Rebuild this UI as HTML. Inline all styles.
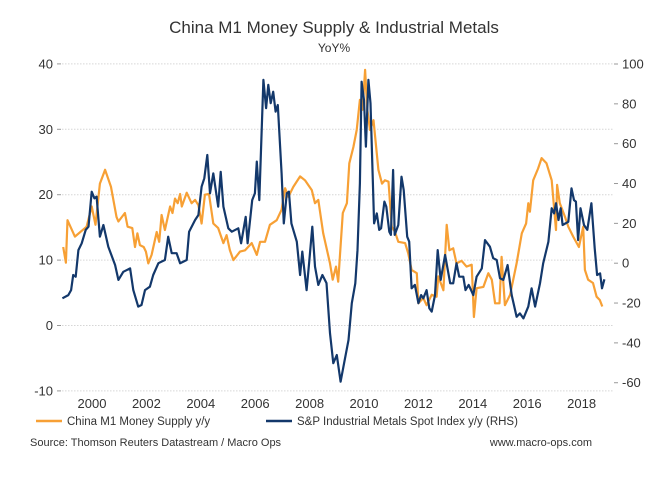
<!DOCTYPE html>
<html><head><meta charset="utf-8"><style>
body{margin:0;background:#fff;font-family:"Liberation Sans",sans-serif;}
svg{display:block}
text{font-family:"Liberation Sans",sans-serif;fill:#333}
</style></head><body>
<svg id="chart" width="668" height="479" viewBox="0 0 668 479">
<text x="334" y="33" text-anchor="middle" font-size="17">China M1 Money Supply &amp; Industrial Metals</text>
<text x="334" y="52" text-anchor="middle" font-size="12">YoY%</text>
<g id="grid"></g>
<g id="axes"></g>
<g id="series"></g>
<g>
<line x1="36" y1="421" x2="62" y2="421" stroke="#f7a035" stroke-width="2.5"/>
<text x="67" y="425" font-size="11.5">China M1 Money Supply y/y</text>
<line x1="266" y1="421" x2="292" y2="421" stroke="#13386b" stroke-width="2.5"/>
<text x="297" y="425" font-size="11.5">S&amp;P Industrial Metals Spot Index y/y (RHS)</text>
</g>
<text x="30" y="446" font-size="11">Source: Thomson Reuters Datastream / Macro Ops</text>
<text x="592" y="446" text-anchor="end" font-size="11">www.macro-ops.com</text>
</svg>
<script>
const leftTicks=[40,30,20,10,0,-10];
const rightTicks=[100,80,60,40,20,0,-20,-40,-60];
const yearTicks=[2000,2002,2004,2006,2008,2010,2012,2014,2016,2018];
const m1Dates=[1998.94,1999.04,1999.1,1999.37,1999.8,1999.99,2000.13,2000.29,2000.48,2000.7,2000.9,2000.97,2001.21,2001.31,2001.48,2001.58,2001.67,2001.76,2001.9,2001.98,2002.07,2002.19,2002.38,2002.47,2002.56,2002.68,2002.87,2002.96,2003.05,2003.15,2003.24,2003.3,2003.48,2003.66,2003.79,2003.91,2004.03,2004.15,2004.3,2004.46,2004.64,2004.83,2004.95,2005.07,2005.2,2005.44,2005.63,2005.87,2006.06,2006.18,2006.36,2006.54,2006.79,2006.97,2007.1,2007.22,2007.4,2007.65,2007.83,2008.08,2008.2,2008.32,2008.5,2008.75,2008.85,2008.97,2009.05,2009.22,2009.37,2009.46,2009.61,2009.73,2009.85,2009.95,2010.04,2010.12,2010.22,2010.35,2010.53,2010.66,2010.77,2010.9,2011.02,2011.14,2011.26,2011.51,2011.63,2011.75,2011.94,2012.0,2012.18,2012.3,2012.49,2012.67,2012.73,2012.92,2013.04,2013.14,2013.28,2013.4,2013.59,2013.77,2013.96,2014.04,2014.14,2014.39,2014.57,2014.7,2014.82,2014.98,2015.06,2015.18,2015.37,2015.61,2015.8,2015.96,2016.04,2016.1,2016.22,2016.4,2016.53,2016.71,2016.9,2017.06,2017.1,2017.2,2017.39,2017.51,2017.69,2017.9,2018.06,2018.12,2018.24,2018.42,2018.55,2018.67,2018.76];
const m1Values=[12.0,9.6,16.1,13.6,15.1,18.2,15.4,21.7,23.8,21.2,16.6,15.9,17.2,15.1,14.9,12.0,14.1,12.3,12.0,11.3,9.5,10.8,14.3,12.8,16.9,14.6,18.2,17.2,19.4,18.7,20.1,18.2,20.3,18.7,19.2,18.4,15.6,20.0,20.1,15.6,14.9,12.6,13.8,11.5,10.0,11.3,11.5,12.6,10.8,12.8,12.8,15.4,16.1,17.7,21.0,19.7,21.2,22.8,22.2,20.7,18.7,19.2,14.1,9.5,7.0,9.0,6.7,17.2,18.7,24.8,27.3,29.9,34.5,33.0,39.1,33.0,29.9,31.4,23.8,21.7,22.2,22.0,15.1,14.3,12.8,12.6,11.0,8.5,8.0,3.4,4.2,3.1,4.7,4.4,7.5,5.4,15.4,11.5,11.8,9.5,9.9,9.0,9.3,1.3,5.7,5.9,8.0,7.0,3.4,3.4,10.5,3.1,4.7,9.5,14.1,15.6,18.7,17.4,22.2,24.0,25.6,24.8,22.2,14.6,21.5,18.7,16.6,15.1,13.6,12.0,15.1,8.5,7.0,6.5,4.4,3.9,2.9];
const metDates=[1998.91,1999.13,1999.23,1999.31,1999.4,1999.5,1999.62,1999.77,1999.87,1999.99,2000.09,2000.17,2000.29,2000.42,2000.6,2000.85,2000.97,2001.15,2001.4,2001.52,2001.7,2001.82,2001.95,2002.13,2002.25,2002.44,2002.68,2002.8,2002.93,2003.11,2003.24,2003.48,2003.57,2003.79,2003.91,2004.03,2004.13,2004.24,2004.34,2004.46,2004.64,2004.73,2004.83,2005.01,2005.14,2005.38,2005.48,2005.65,2005.72,2005.89,2005.99,2006.06,2006.15,2006.3,2006.4,2006.48,2006.57,2006.66,2006.75,2006.83,2006.97,2007.05,2007.16,2007.24,2007.33,2007.53,2007.65,2007.73,2007.89,2007.98,2008.1,2008.2,2008.32,2008.47,2008.62,2008.75,2008.87,2009.0,2009.14,2009.27,2009.43,2009.55,2009.68,2009.76,2009.85,2009.91,2010.0,2010.07,2010.16,2010.24,2010.37,2010.47,2010.56,2010.63,2010.75,2010.82,2010.93,2010.99,2011.07,2011.13,2011.26,2011.38,2011.46,2011.59,2011.66,2011.75,2011.87,2012.0,2012.1,2012.18,2012.3,2012.4,2012.49,2012.61,2012.71,2012.82,2012.98,2013.17,2013.28,2013.4,2013.5,2013.65,2013.73,2013.85,2014.02,2014.14,2014.33,2014.45,2014.63,2014.75,2014.88,2015.0,2015.12,2015.28,2015.43,2015.61,2015.73,2015.86,2016.04,2016.16,2016.29,2016.47,2016.59,2016.78,2016.9,2016.99,2017.06,2017.15,2017.23,2017.3,2017.51,2017.63,2017.72,2017.79,2017.87,2017.96,2018.09,2018.21,2018.36,2018.48,2018.57,2018.68,2018.75,2018.84];
const metValues=[-17.6,-16.0,-13.5,-5.9,-6.8,6.6,10.0,16.7,18.3,35.9,32.6,33.4,13.3,19.2,8.3,-0.9,-8.4,-4.3,-2.6,-13.5,-21.8,-21.0,-13.5,-11.8,-5.9,0,1.6,13.3,5.0,5.0,0,1.6,15.8,21.7,24.2,38.4,42.6,54.3,35.1,45.1,28.4,45.9,28.4,17.5,15.8,17.5,10.0,23.3,10.0,31.7,35.1,51.0,31.7,92.0,77.8,89.5,80.3,86.1,76.1,79.4,45.1,20.0,35.1,35.9,20.0,10.8,-5.9,5.8,-13.5,0,18.3,-1.7,-10.9,-5.9,-10.0,-35.2,-50.2,-46.1,-59.5,-50.2,-38.6,-20.1,-10.1,6.6,40.1,91.1,81.9,58.5,92.0,80.3,20.0,25.0,16.7,17.5,30.9,28.4,15.8,14.2,46.8,14.2,19.2,43.4,36.7,13.3,10.8,-12.6,-10.9,-20.1,-16.0,-17.6,-13.5,-22.6,-24.3,-16.0,6.6,-8.4,4.1,-10.1,-10.1,0,-6.8,-6.8,-13.5,-10.9,-16.0,-6.8,-2.6,11.6,8.3,2.5,1.6,-7.6,-8.4,-0.9,-16.0,-26.9,-25.2,-27.7,-21.8,-12.6,-21.8,-10.1,0,10.8,27.6,25.0,30.1,21.7,27.6,19.2,20.8,37.6,31.7,30.9,11.6,27.6,19.2,16.7,30.1,7.5,-5.9,-5.1,-12.6,-8.1];

const NS='http://www.w3.org/2000/svg';
const X0=62,X1=613;
function x(yr){return 92+27.2*(yr-2000);}
function yL(v){return 325.5-6.54*v;}
function yR(v){return 263.2-1.992*v;}
function mk(tag,attrs,parent){const e=document.createElementNS(NS,tag);for(const k in attrs)e.setAttribute(k,attrs[k]);parent.appendChild(e);return e;}
const grid=document.getElementById('grid'),axes=document.getElementById('axes'),series=document.getElementById('series');
leftTicks.forEach(v=>{
  const l=mk('line',{x1:X0,x2:X1,y1:yL(v),y2:yL(v),stroke:'#d6d6d6','stroke-dasharray':'1.5,1.5','stroke-width':1},grid);
  
  
  const t=mk('line',{x1:X0-5,x2:X0-1,y1:yL(v),y2:yL(v),stroke:'#999'},axes);
  
  
  const tx=mk('text',{x:X0-9,y:yL(v)+4.5,'text-anchor':'end','font-size':13},axes);
  tx.textContent=v;
  
  
});
rightTicks.forEach(v=>{
  const t=mk('line',{x1:X1+1,x2:X1+5,y1:yR(v),y2:yR(v),stroke:'#999'},axes);
  
  
  const tx=mk('text',{x:X1+9,y:yR(v)+4.5,'text-anchor':'start','font-size':13},axes);
  tx.textContent=v;
  
  
});
yearTicks.forEach(yr=>{
  const tx=mk('text',{x:x(yr),y:408,'text-anchor':'middle','font-size':13},axes);
  tx.textContent=yr;
  
  
});
function path(dates,vals,yf,color,name){
  const d=dates.map((t,i)=>(i?'L':'M')+x(t).toFixed(1)+','+yf(vals[i]).toFixed(1)).join('');
  const p=mk('path',{d:d,fill:'none',stroke:color,'stroke-width':2.2,'stroke-linejoin':'round'},series);
  
  
}
path(m1Dates,m1Values,yL,'#f7a035','m1-line');
path(metDates,metValues,yR,'#13386b','metals-line');
</script>
</body></html>
